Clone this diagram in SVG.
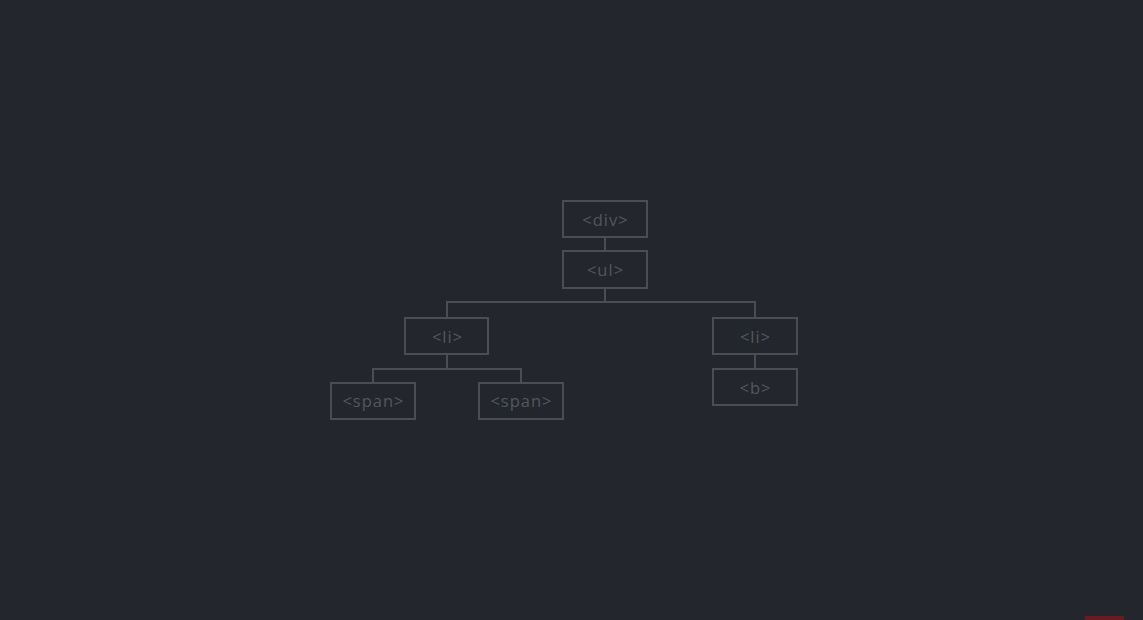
<svg xmlns="http://www.w3.org/2000/svg" width="1143" height="620" viewBox="0 0 1143 620">
<style>
.box{fill:none;stroke:#4b4d53;stroke-width:2}
.lbl{font-family:"Open Sans","Liberation Sans",sans-serif;font-size:16.5px;letter-spacing:1px;fill:#53565c;text-anchor:middle;dominant-baseline:central}
.con{fill:none;stroke:#4b4d53;stroke-width:2}
</style>
<rect width="1143" height="620" fill="#24262d"/>
<g id="connectors">
<path class="con" d="M605,237V251"/>
<path class="con" d="M605,288V302M447,318V302H755V318"/>
<path class="con" d="M447,354V369M373,383V369H521V383"/>
<path class="con" d="M755,354V369"/>
</g>
<g id="div"><rect class="box" x="563" y="201" width="84" height="36"/><text class="lbl" x="605.5" y="219">&lt;div&gt;</text></g>
<g id="ul"><rect class="box" x="563" y="251" width="84" height="37"/><text class="lbl" x="605.5" y="269">&lt;ul&gt;</text></g>
<g id="li1"><rect class="box" x="405" y="318" width="83" height="36"/><text class="lbl" x="447.5" y="336">&lt;li&gt;</text></g>
<g id="li2"><rect class="box" x="713" y="318" width="84" height="36"/><text class="lbl" x="755.5" y="336">&lt;li&gt;</text></g>
<g id="span1"><rect class="box" x="331" y="383" width="84" height="36"/><text class="lbl" x="373.5" y="400">&lt;span&gt;</text></g>
<g id="span2"><rect class="box" x="479" y="383" width="84" height="36"/><text class="lbl" x="521.5" y="400">&lt;span&gt;</text></g>
<g id="b"><rect class="box" x="713" y="369" width="84" height="36"/><text class="lbl" x="755.5" y="387">&lt;b&gt;</text></g>
<rect x="1085" y="616" width="39" height="4" fill="#6b1a22"/>
</svg>
